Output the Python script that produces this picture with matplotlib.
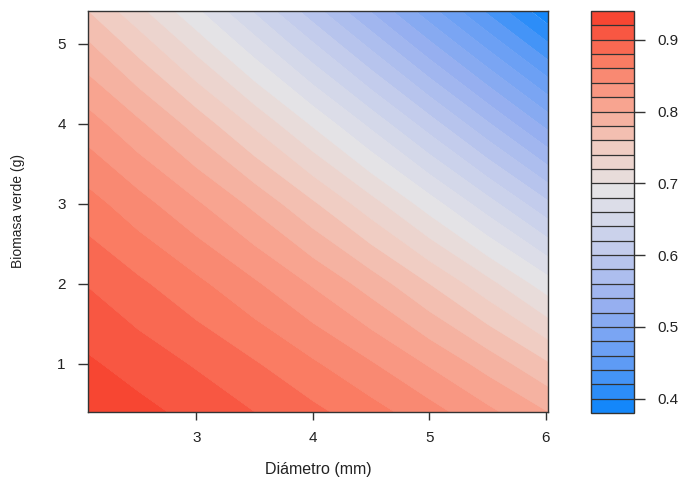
import numpy as np
import matplotlib
matplotlib.use("Agg")
import matplotlib.pyplot as plt
from matplotlib.colors import LinearSegmentedColormap

plt.rcParams['font.family'] = ['Liberation Sans', 'DejaVu Sans']

# Grid of predicted values
diametro = [2.07, 2.5, 3.0, 3.5, 4.0, 4.5, 5.0, 5.5, 6.02]
biomasa = [0.4, 1.0, 2.0, 3.0, 4.0, 5.0, 5.41]
# rows follow biomasa, columns follow diametro
valores = [
    [0.935, 0.926, 0.914, 0.900, 0.885, 0.868, 0.848, 0.825, 0.800],
    [0.923, 0.912, 0.898, 0.882, 0.863, 0.842, 0.818, 0.792, 0.762],
    [0.899, 0.884, 0.865, 0.843, 0.818, 0.791, 0.760, 0.727, 0.689],
    [0.868, 0.848, 0.823, 0.795, 0.763, 0.728, 0.690, 0.649, 0.604],
    [0.829, 0.804, 0.772, 0.736, 0.697, 0.655, 0.610, 0.563, 0.513],
    [0.782, 0.751, 0.711, 0.668, 0.622, 0.574, 0.524, 0.474, 0.422],
    [0.760, 0.726, 0.684, 0.638, 0.589, 0.539, 0.488, 0.437, 0.385],
]
niveles = [round(0.38 + 0.02 * i, 2) for i in range(29)]
cb_ticks = [0.4, 0.5, 0.6, 0.7, 0.8, 0.9]

nodes = [
    (0.39, (20, 135, 250)),
    (0.45, (95, 155, 245)),
    (0.53, (150, 175, 240)),
    (0.61, (195, 204, 236)),
    (0.69, (228, 227, 230)),
    (0.75, (240, 205, 195)),
    (0.81, (248, 165, 145)),
    (0.87, (250, 125, 100)),
    (0.93, (247, 70, 50)),
]
lo, hi = nodes[0][0], nodes[-1][0]
cmap = LinearSegmentedColormap.from_list(
    "rb", [((v - lo) / (hi - lo), tuple(c / 255 for c in col)) for v, col in nodes])
centres = [(niveles[i] + niveles[i + 1]) / 2 for i in range(len(niveles) - 1)]
band_colors = [cmap(np.clip((c - lo) / (hi - lo), 0, 1)) for c in centres]

fig = plt.figure(figsize=(6.83, 4.80), dpi=100)
ax = fig.add_axes([88 / 683, 68 / 480, 460 / 683, 401 / 480])
X, Y = np.meshgrid(diametro, biomasa)
Z = np.array(valores)
cf = ax.contourf(X, Y, Z, levels=niveles, colors=band_colors, antialiased=True)
ax.contourf(X, Y, Z, levels=niveles, colors=band_colors, antialiased=True)
ax.set_xlim(2.07, 6.02)
ax.set_ylim(0.4, 5.41)
ax.set_xticks([3, 4, 5, 6])
ax.set_yticks([1, 2, 3, 4, 5])
ax.tick_params(direction='out', width=1, color='#333333',
               labelsize=11, labelcolor='#222222')
ax.tick_params(axis='x', length=6, pad=8)
ax.tick_params(axis='y', length=7, pad=9)
for s in ax.spines.values():
    s.set_color('#333333')
    s.set_linewidth(1.0)
ax.set_xlabel('Diámetro (mm)', fontsize=11.5, color='#222222', labelpad=12)
ax.set_ylabel('Biomasa verde (g)', fontsize=10, color='#222222', labelpad=23)

cax = fig.add_axes([591 / 683, 67 / 480, 43 / 683, 402 / 480])
cb = fig.colorbar(cf, cax=cax, drawedges=True)
cb.set_ticks(cb_ticks)
cb.ax.tick_params(direction='out', length=8, width=1, color='#333333',
                  labelsize=11, labelcolor='#222222', pad=9)
cb.dividers.set_color('#333333')
cb.dividers.set_linewidth(0.9)
cb.outline.set_edgecolor('#333333')
cb.outline.set_linewidth(1.0)

fig.savefig('out.png', dpi=100)
